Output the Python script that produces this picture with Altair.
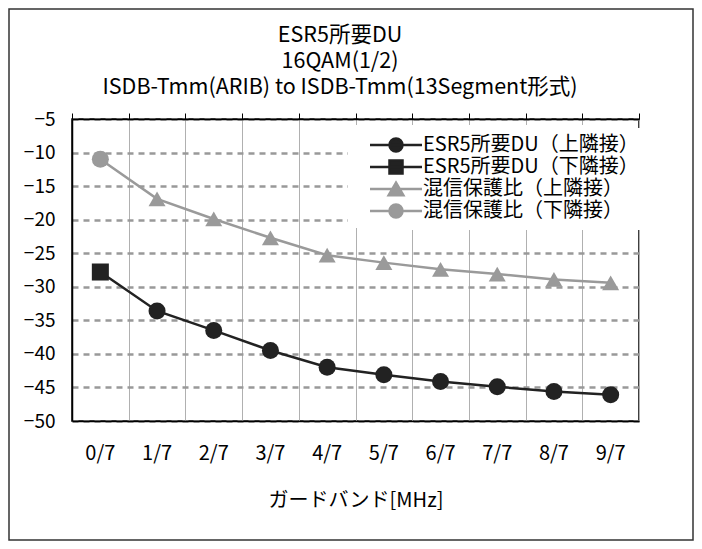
import altair as alt
import pandas as pd

FONT = "Noto Sans CJK JP"

categories = ["0/7", "1/7", "2/7", "3/7", "4/7", "5/7", "6/7", "7/7", "8/7", "9/7"]
series_names = ["ESR5所要DU（上隣接）", "ESR5所要DU（下隣接）", "混信保護比（上隣接）", "混信保護比（下隣接）"]
series_colors = ["#222222", "#222222", "#9a9a9a", "#9a9a9a"]
series_shapes = ["circle", "square", "triangle-up", "circle"]

esr5_upper = [None, -33.6, -36.5, -39.5, -42.0, -43.1, -44.1, -44.9, -45.6, -46.1]
esr5_lower = [-27.8, None, None, None, None, None, None, None, None, None]
prot_upper = [None, -16.9, -19.9, -22.7, -25.3, -26.4, -27.4, -28.1, -28.9, -29.4]
prot_lower = [-11.0, None, None, None, None, None, None, None, None, None]

y_ticks = [-50, -45, -40, -35, -30, -25, -20, -15, -10, -5]
title_lines = ["ESR5所要DU", "16QAM(1/2)", "ISDB-Tmm(ARIB) to ISDB-Tmm(13Segment形式)"]
x_title = "ガードバンド[MHz]"

rows = []
for name, vals in zip(series_names, [esr5_upper, esr5_lower, prot_upper, prot_lower]):
    for c, v in zip(categories, vals):
        if v is not None:
            rows.append({"series": name, "cat": c, "val": v})
points_df = pd.DataFrame(rows)

line_rows = []
for grp, a, b in [("ESR5", esr5_lower, esr5_upper), ("prot", prot_lower, prot_upper)]:
    for c, v1, v2 in zip(categories, a, b):
        v = v1 if v1 is not None else v2
        line_rows.append({"grp": grp, "cat": c, "val": v})
lines_df = pd.DataFrame(line_rows)

W, H = 567, 302
PAD = {"left": 64, "top": 111, "right": 55, "bottom": 120}

def band():
    return alt.Scale(type="band", domain=categories, paddingInner=0, paddingOuter=0)

y_scale = alt.Scale(domain=[-50, -5], nice=False, zero=False)
y_axis = alt.Axis(values=y_ticks, grid=True, gridDash=[6, 5], gridColor="#999999", gridWidth=2.5,
                  ticks=False, domain=True, domainColor="#000000", domainWidth=1.5,
                  labelFontSize=19, labelFont=FONT, labelColor="#000000", labelPadding=17, title=None)

one = pd.DataFrame({"f": [0]})

frame = alt.Chart(one).mark_rect(
    fill="transparent", stroke="#333333", strokeWidth=1.5
).encode(
    x=alt.value(-63), x2=alt.value(W + 54), y=alt.value(-110), y2=alt.value(H + 119)
)

# white backdrop of the legend (hides grid lines behind it)
legend_box = alt.Chart(one).mark_rect(fill="white", stroke="transparent").encode(
    x=alt.value(276), x2=alt.value(W - 2), y=alt.value(6), y2=alt.value(109)
)

title_layers = []
for line, yy in zip(title_lines, [-83, -57, -31]):
    title_layers.append(
        alt.Chart(pd.DataFrame({"t": [line]})).mark_text(
            font=FONT, fontSize=21.5, color="#000000", align="center", baseline="middle"
        ).encode(text="t:N", x=alt.value(268), y=alt.value(yy))
    )

bottom_axis = alt.Axis(orient="bottom", title=x_title, labelAngle=0, ticks=False, domain=True,
                       domainColor="#000000", domainWidth=1.5, labelFontSize=20, labelFont=FONT,
                       labelColor="#000000", labelPadding=22, titleFontSize=20, titleFont=FONT,
                       titleColor="#000000", titlePadding=27, titleFontWeight="normal", grid=False)
top_axis = alt.Axis(orient="top", labels=False, ticks=True, tickSize=6, tickColor="#000000",
                    tickWidth=1, tickBand="extent", grid=True, gridColor="#b0b0b0", gridWidth=1,
                    domain=True, domainColor="#000000", domainWidth=1.5, title=None)

lines = alt.Chart(lines_df).mark_line(strokeWidth=2.5).encode(
    x=alt.X("cat:N", sort=categories, scale=band(), axis=bottom_axis),
    y=alt.Y("val:Q", scale=y_scale, axis=y_axis),
    color=alt.Color("grp:N", scale=alt.Scale(domain=["ESR5", "prot"], range=["#222222", "#9a9a9a"]), legend=None),
    detail="grp:N",
)

point_layers = []
for i, (name, shp, col) in enumerate(zip(series_names, series_shapes, series_colors)):
    point_layers.append(
        alt.Chart(points_df).transform_filter(alt.datum.series == name).mark_point(
            filled=True, shape=shp, size=290, color=col, opacity=1
        ).encode(
            x=alt.X("cat:N", sort=categories, scale=band(), axis=top_axis if i == 0 else None),
            y=alt.Y("val:Q", scale=y_scale, axis=y_axis),
        )
    )

U = "M-3.714,0H3.714"
C = "M-0.93,0A0.93,0.93,0,1,1,0.93,0A0.93,0.93,0,1,1,-0.93,0Z"
legend_paths = [
    U + C,
    U + "M-0.93,-0.93H0.93V0.93H-0.93Z",
    U + "M0,-0.9L1.05,0.9H-1.05Z",
    U + C,
]

legend = alt.Legend(
    orient="none", legendX=289, legendY=9, fillColor="white", padding=7, title=None,
    symbolSize=196, symbolOffset=18, labelOffset=17, labelFontSize=20, labelFont=FONT,
    labelColor="#000000", labelLimit=400, rowPadding=-4, symbolStrokeWidth=2.5, symbolOpacity=1,
)

legend_layer = alt.Chart(points_df).transform_filter("false").mark_point(
    filled=False, opacity=1, strokeWidth=2.5
).encode(
    fill=alt.Fill("series:N", scale=alt.Scale(domain=series_names, range=series_colors), legend=legend),
    stroke=alt.Stroke("series:N", scale=alt.Scale(domain=series_names, range=series_colors), legend=legend),
    shape=alt.Shape("series:N", scale=alt.Scale(domain=series_names, range=legend_paths), legend=legend),
)

chart = alt.layer(frame, legend_box, *title_layers, lines, *point_layers, legend_layer).resolve_axis(
    x="independent"
).properties(
    width=W, height=H, padding=PAD,
    autosize=alt.AutoSizeParams(type="none"),
    background="white",
).configure_view(stroke="#000000", strokeWidth=1.5)

chart.save("out.html", embed_options={"renderer": "svg", "actions": False})
